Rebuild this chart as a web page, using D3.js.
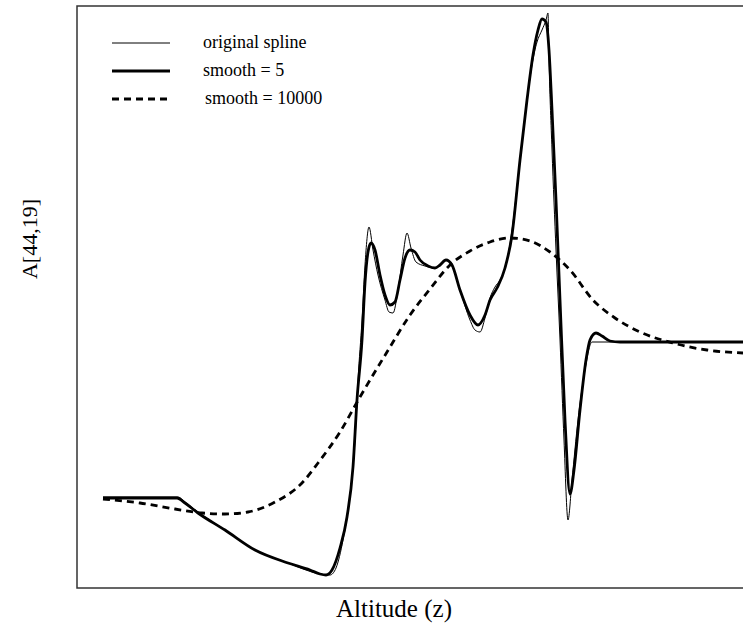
<!DOCTYPE html>
<html>
<head>
<meta charset="utf-8">
<script src="https://cdn.jsdelivr.net/npm/d3@7"></script>
<style>
  html, body { margin: 0; padding: 0; background: #fff; }
  svg { display: block; }
  text { font-family: "Liberation Serif", "DejaVu Serif", serif; fill: #000; }
</style>
</head>
<body>
<svg id="chart" width="743" height="632"></svg>
<script>
// ---- data (altitude, value) ----
const originalAlt = [0,15,16.4,19,24.4,30.4,37,43.4,45.4,46.6,48,49.4,50.4,51,51.8,52.4,53.2,54,55,56.4,57.2,58,59,60,60.8,61.6,62.6,64.4,66.4,67.6,68.6,69.8,71.4,73.4,74.4,75.4,76.4,77.4,78.4,79.4,80.6,81.8,83.4,84.8,85.8,86.8,87.8,88.6,89,89.2,89.8,90.6,91.4,92.2,93,93.8,95,96.4,97.8,128];
const originalVal = [-1.55,-1.55,-1.60,-1.70,-1.88,-2.08,-2.21,-2.32,-2.33,-2.26,-1.98,-1.53,-0.98,-0.38,0.22,0.77,1.15,0.92,0.67,0.42,0.30,0.29,0.52,0.87,1.09,0.94,0.80,0.76,0.74,0.78,0.82,0.76,0.52,0.22,0.12,0.10,0.24,0.44,0.55,0.62,0.77,1.12,1.82,2.42,2.77,3.00,3.12,3.22,3.29,2.82,1.92,0.92,0.02,-0.98,-1.78,-1.38,-0.78,-0.28,0,0];

const smooth5Alt = [0,14.8,16.4,19,24.4,30.4,37,41.4,43.4,44.6,45.8,47.4,48.8,50,50.8,51.8,52.4,53,53.6,54.4,55.4,56.4,57.4,58.4,59.4,60.4,61.4,62.4,63.4,65,66.4,67.4,68.6,69.8,71.4,73.4,75,76.4,77.4,78.8,80.4,81.8,83.4,84.8,86,87,87.8,88.6,89.2,89.8,90.6,91.4,92.4,93.4,94.2,95.4,96.6,97.4,98.6,99.8,101.4,103.4,128];
const smooth5Val = [-1.56,-1.56,-1.61,-1.71,-1.88,-2.08,-2.21,-2.28,-2.32,-2.33,-2.28,-2.06,-1.75,-1.25,-0.58,0.02,0.59,0.90,0.99,0.92,0.67,0.47,0.37,0.40,0.62,0.84,0.92,0.90,0.82,0.76,0.74,0.77,0.82,0.77,0.52,0.27,0.17,0.27,0.42,0.54,0.74,1.07,1.82,2.42,2.87,3.12,3.23,3.20,2.92,2.32,1.42,0.42,-0.78,-1.52,-1.28,-0.68,-0.18,0.02,0.09,0.06,0.01,0,0];

const smooth10000Alt = [0,7.4,14.4,19.8,24.4,29,34.4,39.8,43,47.4,51.4,56.8,61.4,65.4,69.4,73.4,77.4,81.4,85.4,89.4,93.4,98,102.4,107.4,114,120.8,128];
const smooth10000Val = [-1.57,-1.61,-1.67,-1.71,-1.72,-1.70,-1.60,-1.41,-1.21,-0.90,-0.55,-0.10,0.27,0.53,0.77,0.91,1.00,1.04,1.01,0.90,0.72,0.42,0.24,0.10,-0.01,-0.08,-0.11];

const legendLabels = ["original spline", "smooth = 5", "smooth = 10000"];
const xLabel = "Altitude (z)";
const yLabel = "A[44,19]";

// ---- layout ----
const svg = d3.select("#chart");
const box = { left: 77, top: 6, right: 770, bottom: 588 };
const x = d3.scaleLinear().domain([0, 128]).range([103, 743]);
const y = d3.scaleLinear().domain([-2.46, 3.36]).range([box.bottom, box.top]);

svg.append("defs").append("clipPath").attr("id", "clip")
  .append("rect").attr("x", box.left).attr("y", box.top)
  .attr("width", box.right - box.left).attr("height", box.bottom - box.top);

const mk = (a, v) => a.map((d, i) => [d, v[i]]);
const line = d3.line().x(d => x(d[0])).y(d => y(d[1])).curve(d3.curveMonotoneX);

const series = [
  { data: mk(smooth10000Alt, smooth10000Val), width: 2.8, dash: "7,5" },
  { data: mk(originalAlt, originalVal), width: 1, dash: null },
  { data: mk(smooth5Alt, smooth5Val), width: 2.8, dash: null }
];

const g = svg.append("g").attr("clip-path", "url(#clip)");
series.forEach(s => {
  g.append("path").attr("d", line(s.data))
    .attr("fill", "none").attr("stroke", "#000")
    .attr("stroke-width", s.width)
    .attr("stroke-linejoin", "round")
    .attr("stroke-dasharray", s.dash);
});

// frame
svg.append("rect").attr("x", box.left).attr("y", box.top)
  .attr("width", box.right - box.left).attr("height", box.bottom - box.top)
  .attr("fill", "none").attr("stroke", "#333").attr("stroke-width", 1.5);

// legend
const legendStyles = [
  { width: 1, dash: null },
  { width: 2.8, dash: null },
  { width: 2.8, dash: "7,5" }
];
const lg = svg.append("g");
legendLabels.forEach((lab, i) => {
  const yy = 43 + i * 28;
  lg.append("line").attr("x1", 112).attr("x2", 170).attr("y1", yy).attr("y2", yy)
    .attr("stroke", "#000").attr("stroke-width", legendStyles[i].width)
    .attr("stroke-dasharray", legendStyles[i].dash);
  lg.append("text").attr("x", i === 2 ? 205 : 203).attr("y", yy + 5)
    .attr("font-size", 18).text(lab);
});

// axis labels
svg.append("text").attr("x", 394).attr("y", 617).attr("text-anchor", "middle")
  .attr("font-size", 25).text(xLabel);
svg.append("text").attr("transform", "translate(37,239) rotate(-90)")
  .attr("text-anchor", "middle").attr("font-size", 22).text(yLabel);
</script>
</body>
</html>
